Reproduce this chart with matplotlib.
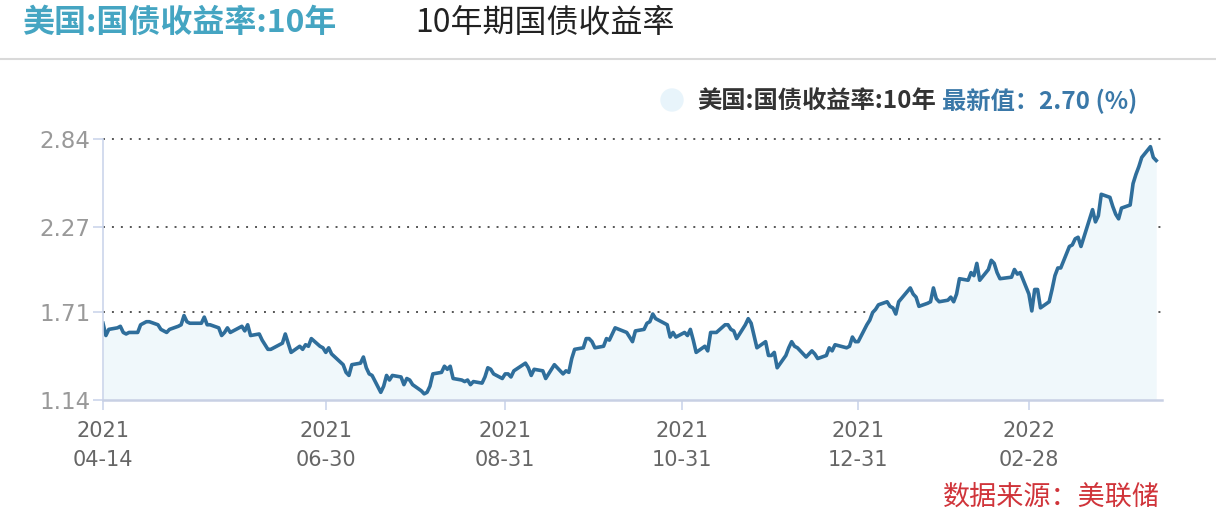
import matplotlib
matplotlib.use("Agg")
import matplotlib.pyplot as plt
from matplotlib.lines import Line2D
from matplotlib.patches import Ellipse
import pandas as pd

plt.rcParams['font.family'] = ['Noto Sans CJK SC', 'DejaVu Sans']

# trading days (US 10y treasury yield, %)
dates = (
    ["2021-04-%02d" % d for d in [14, 15, 16, 19, 20, 21, 22, 23, 26, 27, 28, 29, 30]]
    + ["2021-05-%02d" % d for d in [3, 4, 5, 6, 7, 10, 11, 12, 13, 14, 17, 18, 19, 20, 21, 24, 25, 26, 27, 28]]
    + ["2021-06-%02d" % d for d in [1, 2, 3, 4, 7, 8, 9, 10, 11, 14, 15, 16, 17, 18, 21, 22, 23, 24, 25, 28, 29, 30]]
    + ["2021-07-%02d" % d for d in [1, 2, 6, 7, 8, 9, 12, 13, 14, 15, 16, 19, 20, 21, 22, 23, 26, 27, 28, 29, 30]]
    + ["2021-08-%02d" % d for d in [2, 3, 4, 5, 6, 9, 10, 11, 12, 13, 16, 17, 18, 19, 20, 23, 24, 25, 26, 27, 30, 31]]
    + ["2021-09-%02d" % d for d in [1, 2, 3, 7, 8, 9, 10, 13, 14, 15, 16, 17, 20, 21, 22, 23, 24, 27, 28, 29, 30]]
    + ["2021-10-%02d" % d for d in [1, 4, 5, 6, 7, 8, 12, 13, 14, 15, 18, 19, 20, 21, 22, 25, 26, 27, 28, 29]]
    + ["2021-11-%02d" % d for d in [1, 2, 3, 4, 5, 8, 9, 10, 12, 15, 16, 17, 18, 19, 22, 23, 24, 26, 29, 30]]
    + ["2021-12-%02d" % d for d in [1, 2, 3, 6, 7, 8, 9, 10, 13, 14, 15, 16, 17, 20, 21, 22, 23, 27, 28, 29, 30, 31]]
    + ["2022-01-%02d" % d for d in [3, 4, 5, 6, 7, 10, 11, 12, 13, 14, 18, 19, 20, 21, 24, 25, 26, 27, 28, 31]]
    + ["2022-02-%02d" % d for d in [1, 2, 3, 4, 7, 8, 9, 10, 11, 14, 15, 16, 17, 18, 22, 23, 24, 25, 28]]
    + ["2022-03-%02d" % d for d in [1, 2, 3, 4, 7, 8, 9, 10, 11, 14, 15, 16, 17, 18, 21, 22, 23, 24, 25, 28, 29, 30, 31]]
    + ["2022-04-%02d" % d for d in [1, 4, 5, 6, 7, 8, 11, 12, 13]]
)

yields = [
    1.64, 1.56, 1.60, 1.61, 1.62, 1.58, 1.57, 1.58, 1.58, 1.63, 1.64, 1.65, 1.65,
    1.63, 1.60, 1.59, 1.58, 1.60, 1.62, 1.63, 1.69, 1.65, 1.64, 1.64, 1.64, 1.68, 1.63, 1.63, 1.61, 1.56, 1.58, 1.61, 1.58,
    1.62, 1.59, 1.63, 1.56, 1.57, 1.53, 1.50, 1.47, 1.47, 1.50, 1.51, 1.57, 1.51, 1.45, 1.49, 1.47, 1.50, 1.49, 1.54, 1.49, 1.48, 1.45,
    1.48, 1.44, 1.37, 1.32, 1.30, 1.37, 1.38, 1.42, 1.35, 1.31, 1.30, 1.19, 1.23, 1.30, 1.27, 1.30, 1.29, 1.24, 1.28, 1.27, 1.24,
    1.20, 1.18, 1.19, 1.23, 1.31, 1.32, 1.36, 1.34, 1.36, 1.28, 1.27, 1.26, 1.27, 1.24, 1.26, 1.25, 1.29, 1.35, 1.34, 1.31, 1.28, 1.31,
    1.31, 1.29, 1.33, 1.38, 1.35, 1.30, 1.34, 1.33, 1.28, 1.31, 1.34, 1.37, 1.31, 1.33, 1.32, 1.41, 1.47, 1.48, 1.54, 1.54, 1.52,
    1.48, 1.49, 1.54, 1.53, 1.57, 1.61, 1.58, 1.55, 1.52, 1.59, 1.60, 1.64, 1.65, 1.70, 1.67, 1.64, 1.63, 1.55, 1.58, 1.55,
    1.58, 1.56, 1.60, 1.53, 1.45, 1.49, 1.46, 1.58, 1.58, 1.63, 1.63, 1.60, 1.59, 1.54, 1.63, 1.67, 1.64, 1.48, 1.52, 1.43,
    1.43, 1.45, 1.35, 1.43, 1.48, 1.52, 1.49, 1.48, 1.42, 1.44, 1.46, 1.44, 1.41, 1.43, 1.48, 1.46, 1.50, 1.48, 1.49, 1.55, 1.52, 1.52,
    1.63, 1.66, 1.71, 1.73, 1.76, 1.78, 1.75, 1.74, 1.70, 1.78, 1.87, 1.83, 1.81, 1.75, 1.77, 1.78, 1.87, 1.80, 1.78, 1.79,
    1.81, 1.78, 1.83, 1.93, 1.92, 1.97, 1.95, 2.03, 1.92, 1.99, 2.05, 2.03, 1.97, 1.93, 1.94, 1.99, 1.96, 1.97, 1.83,
    1.72, 1.86, 1.86, 1.74, 1.78, 1.86, 1.95, 2.00, 2.00, 2.14, 2.15, 2.19, 2.20, 2.14, 2.32, 2.38, 2.30, 2.34, 2.48, 2.46, 2.40, 2.35, 2.32,
    2.39, 2.41, 2.55, 2.61, 2.66, 2.72, 2.79, 2.72, 2.70,
]

y_ticks = [1.14, 1.71, 2.27, 2.84]
x_tick_dates = ["2021-04-14", "2021-06-30", "2021-08-31", "2021-10-31", "2021-12-31", "2022-02-28"]
x_tick_labels = ["2021\n04-14", "2021\n06-30", "2021\n08-31", "2021\n10-31", "2021\n12-31", "2022\n02-28"]

x = pd.to_datetime(dates)
W, H = 1216, 530

fig = plt.figure(figsize=(W / 100, H / 100), dpi=100)
ax = fig.add_axes([103 / W, 130 / H, 1059 / W, 261 / H])

ax.fill_between(x, yields, y_ticks[0], color="#f0f8fb", lw=0)
ax.plot(x, yields, color="#2f6e9b", lw=2.6, solid_joinstyle="round")

ax.set_ylim(y_ticks[0], y_ticks[-1])
ax.set_xlim(pd.Timestamp("2021-04-14"), pd.Timestamp("2022-04-15"))

for v in y_ticks[1:]:
    ax.axhline(v, color="#555555", lw=1.4, ls=(0, (1, 3.6)), clip_on=False, zorder=0.5)

ax.set_yticks(y_ticks)
ax.set_yticklabels(["%.2f" % v for v in y_ticks], family="DejaVu Sans")
ax.set_xticks(pd.to_datetime(x_tick_dates))
ax.set_xticklabels(x_tick_labels, family="DejaVu Sans", linespacing=1.6)

ax.tick_params(axis="y", length=7, width=1.2, color="#ccd6eb", labelcolor="#999999",
               labelsize=16.5, pad=2)
ax.tick_params(axis="x", length=7, width=1.2, color="#ccd6eb", labelcolor="#666666",
               labelsize=15, pad=8)

for s in ["top", "right"]:
    ax.spines[s].set_visible(False)
ax.spines["left"].set_color("#ccd6eb")
ax.spines["left"].set_linewidth(1.2)
ax.spines["bottom"].set_color("#c8d0e4")
ax.spines["bottom"].set_linewidth(1.8)

# header
fig.text(22 / W, 1 - 23 / H, "美国:国债收益率:10年", color="#45a5c2", fontsize=23,
         fontweight="bold", va="center", ha="left")
fig.text(415 / W, 1 - 23 / H, "10年期国债收益率", color="#222222", fontsize=23,
         va="center", ha="left")
fig.add_artist(Line2D([0, 1], [1 - 58.5 / H] * 2, color="#d9d9d9", lw=1.5))

# legend
fig.add_artist(Ellipse((672 / W, 1 - 100 / H), 22 / W, 22 / H, color="#e8f4fb",
                       transform=fig.transFigure))
fig.text(697 / W, 1 - 101 / H, "美国:国债收益率:10年", color="#333333", fontsize=17.5,
         fontweight="bold", va="center", ha="left")
fig.text(942 / W, 1 - 101 / H, "最新值：2.70 (%)", color="#3a78a8", fontsize=17.5,
         fontweight="bold", va="center", ha="left")

# source
fig.text(1160 / W, 1 - 497 / H, "数据来源：美联储", color="#d0343a", fontsize=19.5,
         va="center", ha="right")

fig.savefig("out.png", dpi=100)
